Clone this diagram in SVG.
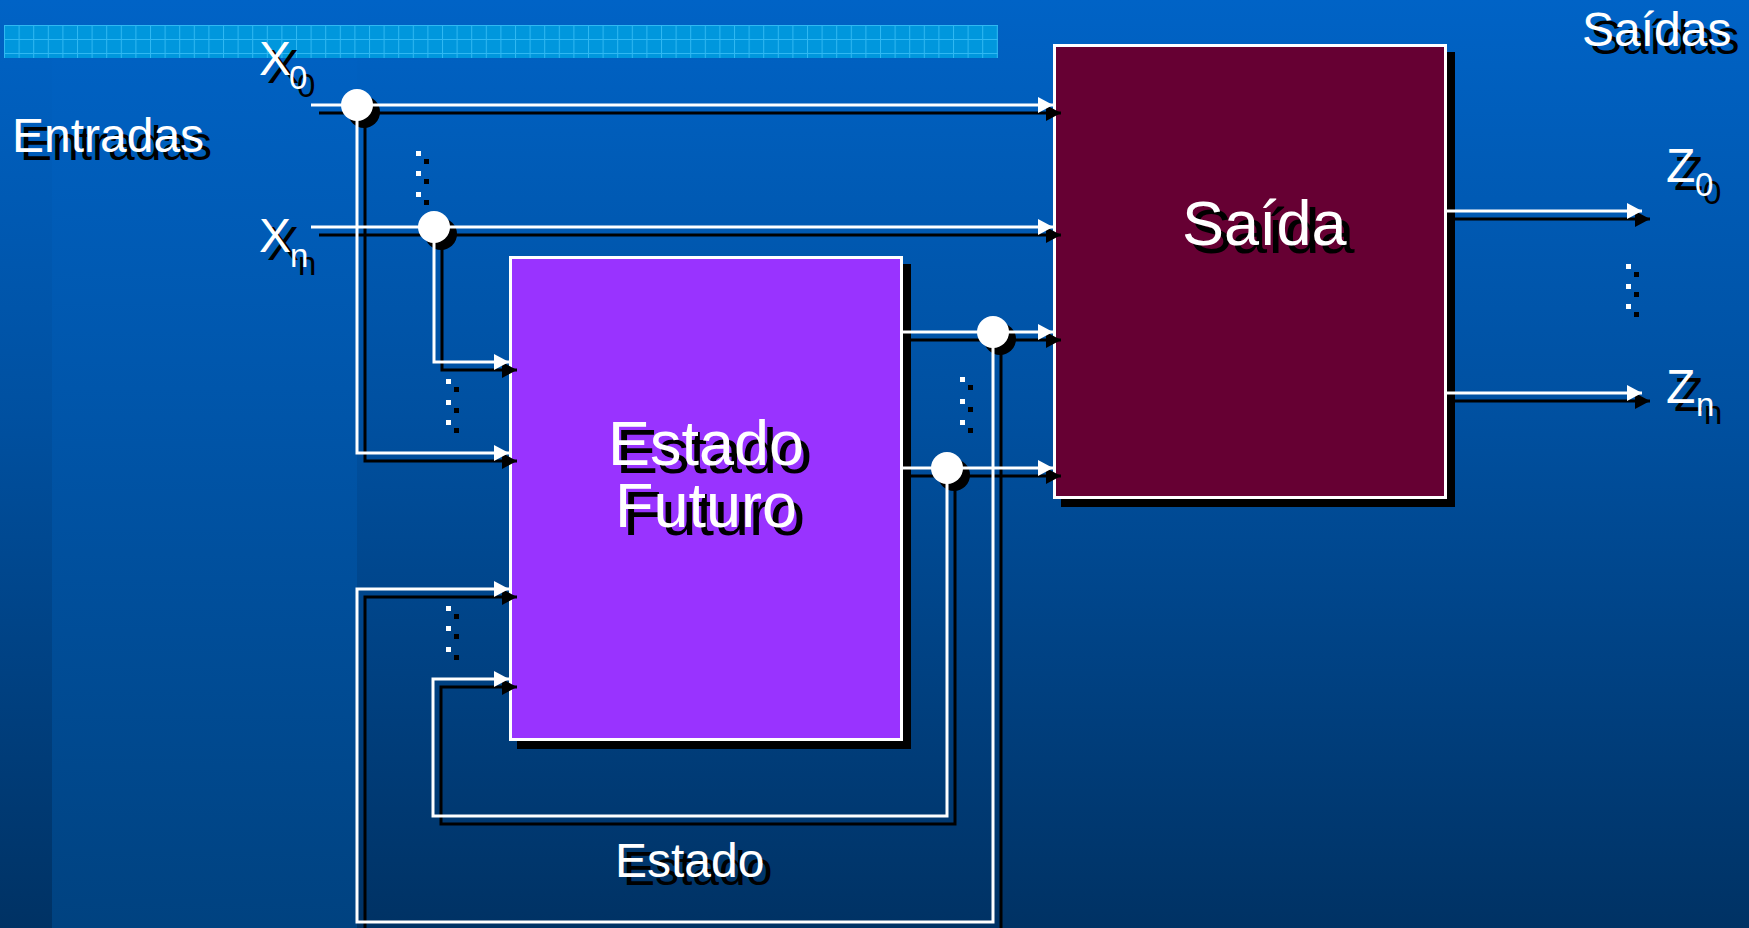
<svg xmlns="http://www.w3.org/2000/svg" width="1749" height="928" viewBox="0 0 1749 928">
<defs>
<linearGradient id="bg" x1="0" y1="0" x2="0" y2="1">
<stop offset="0" stop-color="#0063C6"/>
<stop offset="0.45" stop-color="#0050A0"/>
<stop offset="1" stop-color="#003264"/>
</linearGradient>
<linearGradient id="bg2" x1="0" y1="0" x2="0" y2="1">
<stop offset="0" stop-color="#0063C6"/>
<stop offset="0.45" stop-color="#0055A9"/>
<stop offset="1" stop-color="#004280"/>
</linearGradient>
<pattern id="grid" x="4" y="25" width="14.6" height="14" patternUnits="userSpaceOnUse">
<rect width="14.6" height="14" fill="#0097DD"/>
<path d="M0.5,0 V14 M0,0.5 H14.6" stroke="#30B8F2" stroke-width="1" fill="none"/>
</pattern>
<marker id="aw" markerUnits="userSpaceOnUse" viewBox="0 0 15 16" refX="15" refY="8" markerWidth="15" markerHeight="16" orient="auto">
<path d="M0,0 L15,8 L0,16 z" fill="#FFFFFF"/>
</marker>
<marker id="ab" markerUnits="userSpaceOnUse" viewBox="0 0 15 16" refX="15" refY="8" markerWidth="15" markerHeight="16" orient="auto">
<path d="M0,0 L15,8 L0,16 z" fill="#000000"/>
</marker>
</defs>
<style>
.w{fill:none;stroke:#FFFFFF;stroke-width:3;marker-end:url(#aw)}
.b{fill:none;stroke:#000000;stroke-width:3;marker-end:url(#ab)}
.lbl{font-family:"Liberation Sans",Arial,sans-serif;font-size:48px}
.sub{font-family:"Liberation Sans",Arial,sans-serif;font-size:33px}
.big{font-family:"Liberation Sans",Arial,sans-serif;font-size:63px}
.fw{fill:#FFFFFF}
.fb{fill:#000000}
.dw{fill:#FFFFFF}
.db{fill:#000000}
</style>

<!-- background -->
<rect x="0" y="0" width="1749" height="928" fill="url(#bg)"/>
<rect x="52" y="0" width="305" height="928" fill="url(#bg2)"/>
<rect x="4" y="25" width="994" height="33" fill="url(#grid)"/>

<!-- nodes -->
<g id="node-saida">
<rect x="1061" y="52" width="394" height="455" fill="#000000"/>
<rect x="1054.5" y="45.5" width="391" height="452" fill="#660033" stroke="#FFFFFF" stroke-width="3"/>
<text class="big fb" x="1190" y="253">Saída</text>
<text class="big fw" x="1182" y="245">Saída</text>
</g>
<g id="node-estado-futuro">
<rect x="517" y="264" width="394" height="485" fill="#000000"/>
<rect x="510.5" y="257.5" width="391" height="482" fill="#9933FF" stroke="#FFFFFF" stroke-width="3"/>
<text class="big fb" text-anchor="middle" x="714" y="473">Estado</text>
<text class="big fb" text-anchor="middle" x="714" y="535">Futuro</text>
<text class="big fw" text-anchor="middle" x="706" y="465">Estado</text>
<text class="big fw" text-anchor="middle" x="706" y="527">Futuro</text>
</g>

<!-- connectors -->
<g id="connectors">
<g id="shadows">
<path class="b" d="M319,113 H1061"/>
<path class="b" d="M319,235 H1061"/>
<path class="b" d="M365,113 V461 H517"/>
<path class="b" d="M442,235 V370 H517"/>
<path class="b" d="M911,340 H1061"/>
<path class="b" d="M911,476 H1061"/>
<path class="b" d="M1001,340 V930 H365 V597 H517"/>
<path class="b" d="M955,476 V824 H441 V687 H517"/>
<path class="b" d="M1455,219 H1650"/>
<path class="b" d="M1455,401 H1650"/>
<circle cx="364" cy="112" r="16" fill="#000000"/>
<circle cx="441" cy="234" r="16" fill="#000000"/>
<circle cx="1000" cy="339" r="16" fill="#000000"/>
<circle cx="954" cy="475" r="16" fill="#000000"/>
</g>
<g id="lines">
<path class="w" d="M311,105 H1053"/>
<path class="w" d="M311,227 H1053"/>
<path class="w" d="M357,105 V453 H509"/>
<path class="w" d="M434,227 V362 H509"/>
<path class="w" d="M903,332 H1053"/>
<path class="w" d="M903,468 H1053"/>
<path class="w" d="M993,332 V922 H357 V589 H509"/>
<path class="w" d="M947,468 V816 H433 V679 H509"/>
<path class="w" d="M1447,211 H1642"/>
<path class="w" d="M1447,393 H1642"/>
<circle cx="357" cy="105" r="16" fill="#FFFFFF"/>
<circle cx="434" cy="227" r="16" fill="#FFFFFF"/>
<circle cx="993" cy="332" r="16" fill="#FFFFFF"/>
<circle cx="947" cy="468" r="16" fill="#FFFFFF"/>
</g>
</g>

<!-- ellipsis dots -->
<g id="dots">
<rect class="db" x="424" y="159" width="5" height="5"/><rect class="db" x="424" y="179" width="5" height="5"/><rect class="db" x="424" y="200" width="5" height="5"/>
<rect class="dw" x="416" y="151" width="5" height="5"/><rect class="dw" x="416" y="171" width="5" height="5"/><rect class="dw" x="416" y="192" width="5" height="5"/>
<rect class="db" x="454" y="387" width="5" height="5"/><rect class="db" x="454" y="408" width="5" height="5"/><rect class="db" x="454" y="428" width="5" height="5"/>
<rect class="dw" x="446" y="379" width="5" height="5"/><rect class="dw" x="446" y="400" width="5" height="5"/><rect class="dw" x="446" y="420" width="5" height="5"/>
<rect class="db" x="968" y="385" width="5" height="5"/><rect class="db" x="968" y="407" width="5" height="5"/><rect class="db" x="968" y="428" width="5" height="5"/>
<rect class="dw" x="960" y="377" width="5" height="5"/><rect class="dw" x="960" y="399" width="5" height="5"/><rect class="dw" x="960" y="420" width="5" height="5"/>
<rect class="db" x="454" y="614" width="5" height="5"/><rect class="db" x="454" y="634" width="5" height="5"/><rect class="db" x="454" y="655" width="5" height="5"/>
<rect class="dw" x="446" y="606" width="5" height="5"/><rect class="dw" x="446" y="626" width="5" height="5"/><rect class="dw" x="446" y="647" width="5" height="5"/>
<rect class="db" x="1634" y="272" width="5" height="5"/><rect class="db" x="1634" y="292" width="5" height="5"/><rect class="db" x="1634" y="312" width="5" height="5"/>
<rect class="dw" x="1626" y="264" width="5" height="5"/><rect class="dw" x="1626" y="284" width="5" height="5"/><rect class="dw" x="1626" y="304" width="5" height="5"/>
</g>

<!-- labels -->
<g id="labels">
<text class="lbl fb" x="20" y="160">Entradas</text>
<text class="lbl fw" x="12" y="152">Entradas</text>
<text class="lbl fb" x="1590" y="54">Saídas</text>
<text class="lbl fw" x="1582" y="46">Saídas</text>
<text class="lbl fb" x="623" y="885">Estado</text>
<text class="lbl fw" x="615" y="877">Estado</text>
<text class="lbl fb" x="267" y="83">X</text><text class="sub fb" x="297" y="97">0</text>
<text class="lbl fw" x="259" y="75">X</text><text class="sub fw" x="289" y="89">0</text>
<text class="lbl fb" x="267" y="260">X</text><text class="sub fb" x="298" y="275">n</text>
<text class="lbl fw" x="259" y="252">X</text><text class="sub fw" x="290" y="267">n</text>
<text class="lbl fb" x="1674" y="190">Z</text><text class="sub fb" x="1703" y="204">0</text>
<text class="lbl fw" x="1666" y="182">Z</text><text class="sub fw" x="1695" y="196">0</text>
<text class="lbl fb" x="1674" y="411">Z</text><text class="sub fb" x="1704" y="424">n</text>
<text class="lbl fw" x="1666" y="403">Z</text><text class="sub fw" x="1696" y="416">n</text>
</g>
</svg>
